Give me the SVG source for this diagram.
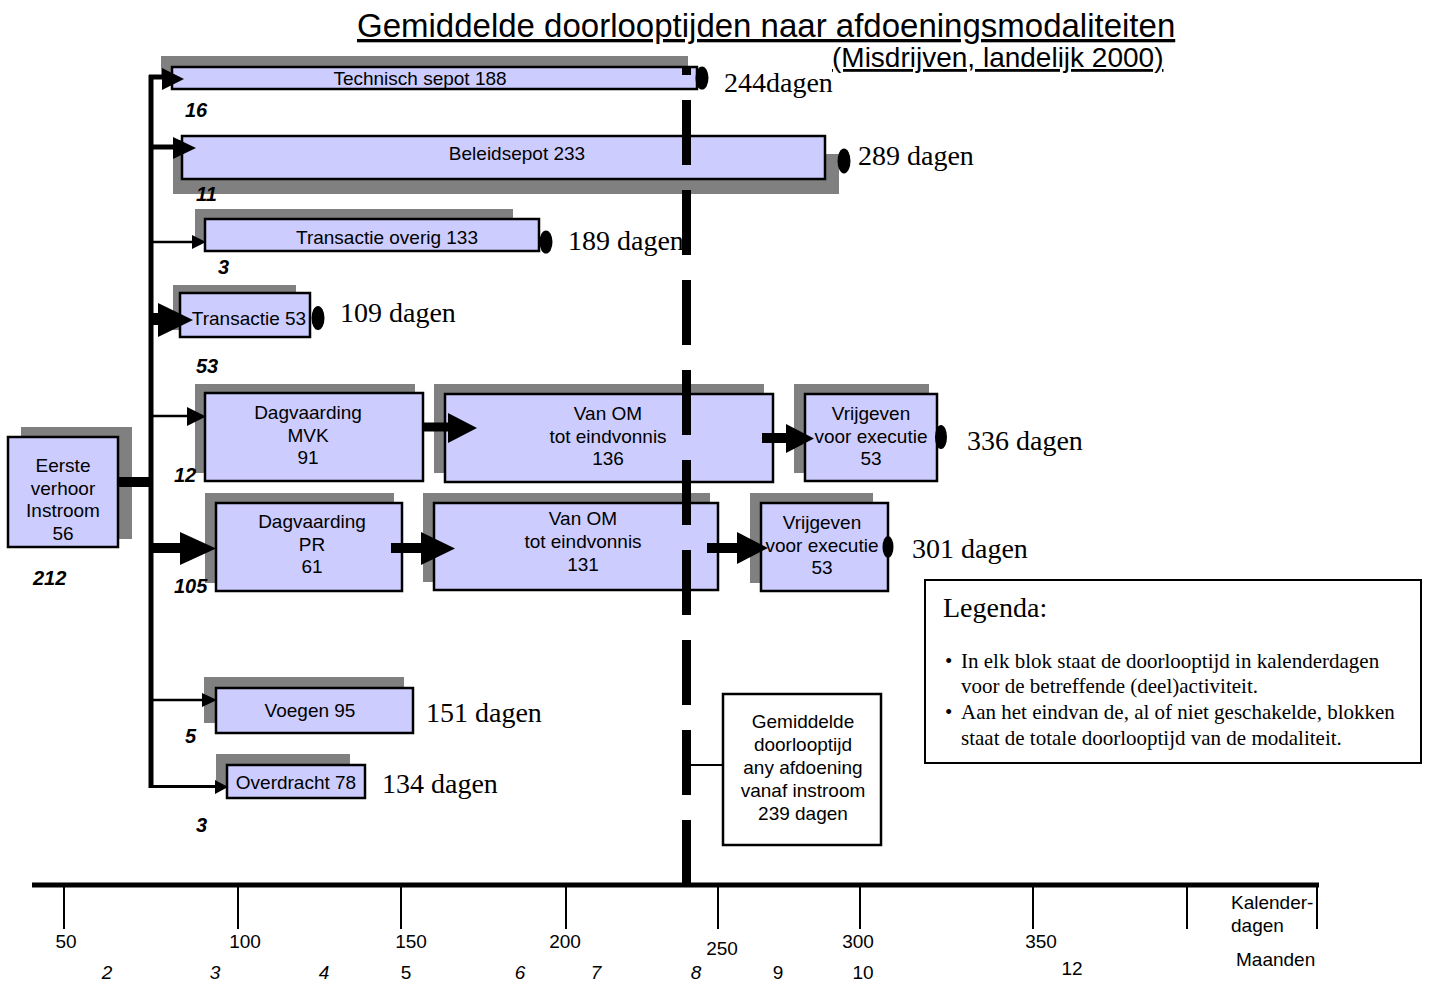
<svg xmlns="http://www.w3.org/2000/svg" width="1429" height="984" viewBox="0 0 1429 984">
<style>
.sh{fill:#808080}
.box{fill:#CCCCFF;stroke:#000;stroke-width:2.5}
.t{font-family:"Liberation Sans",Arial,sans-serif;font-size:19px;text-anchor:middle;fill:#000}
.d{font-family:"Liberation Serif","Times New Roman",serif;font-size:28px;fill:#000}
.n{font-family:"Liberation Sans",Arial,sans-serif;font-size:20px;font-weight:bold;font-style:italic;fill:#000}
.ax{font-family:"Liberation Sans",Arial,sans-serif;font-size:19px;text-anchor:middle;fill:#000}
.mo{font-family:"Liberation Sans",Arial,sans-serif;font-size:19px;text-anchor:middle;fill:#000}
.lg{font-family:"Liberation Serif","Times New Roman",serif;font-size:21px;fill:#000}
.ln{stroke:#000;fill:none}
.ah{fill:#000}
</style>
<rect width="1429" height="984" fill="#fff"/>

<g id="title">
<text x="357" y="37" font-family="Liberation Sans, Arial, sans-serif" font-size="33" text-decoration="underline">Gemiddelde doorlooptijden naar afdoeningsmodaliteiten</text>
<text x="832" y="67" font-family="Liberation Sans, Arial, sans-serif" font-size="28" text-decoration="underline">(Misdrijven, landelijk 2000)</text>
</g>

<g id="eerste">
<rect class="sh" x="21" y="427" width="111" height="112"/>
<rect class="box" x="8" y="437" width="110" height="110"/>
<text class="t" x="63" y="472">Eerste</text>
<text class="t" x="63" y="495">verhoor</text>
<text class="t" x="63" y="517">Instroom</text>
<text class="t" x="63" y="540">56</text>
<text class="n" x="33" y="585">212</text>
</g>

<g id="technisch">
<rect class="sh" x="161" y="56" width="527" height="22"/>
<rect class="box" x="172" y="67" width="525" height="22"/>
<text class="t" x="420" y="85">Technisch sepot 188</text>
<ellipse cx="702" cy="78" rx="6.5" ry="11.5"/>
<text class="d" x="724" y="92">244dagen</text>
<text class="n" x="185" y="117">16</text>
</g>

<g id="beleidsepot">
<path class="sh" d="M173,140 H825 V154 H839 V194 H173 Z"/>
<rect class="box" x="182" y="136" width="643" height="43"/>
<text class="t" x="517" y="160">Beleidsepot  233</text>
<ellipse cx="844" cy="161" rx="6.5" ry="12.5"/>
<text class="d" x="858" y="165">289 dagen</text>
<text class="n" x="196" y="201">11</text>
</g>

<g id="transactie-overig">
<rect class="sh" x="195" y="209" width="318" height="32"/>
<rect class="box" x="205" y="219" width="334" height="32"/>
<text class="t" x="387" y="244">Transactie overig 133</text>
<ellipse cx="546" cy="242" rx="6.5" ry="11.5"/>
<text class="d" x="568" y="250">189 dagen</text>
<text class="n" x="218" y="274">3</text>
</g>

<g id="transactie">
<rect class="sh" x="173" y="285" width="123" height="45"/>
<rect class="box" x="180" y="293" width="130" height="44"/>
<text class="t" x="249" y="325">Transactie 53</text>
<ellipse cx="318" cy="318" rx="6.5" ry="12"/>
<text class="d" x="340" y="322">109 dagen</text>
<text class="n" x="196" y="373">53</text>
</g>

<g id="dagvaarding-mvk">
<rect class="sh" x="195" y="384" width="220" height="89"/>
<rect class="box" x="205" y="393" width="218" height="88"/>
<text class="t" x="308" y="419">Dagvaarding</text>
<text class="t" x="308" y="442">MVK</text>
<text class="t" x="308" y="464">91</text>
<text class="n" x="174" y="482">12</text>
</g>

<g id="vanom-136">
<rect class="sh" x="434" y="384" width="330" height="89"/>
<rect class="box" x="445" y="394" width="328" height="88"/>
<text class="t" x="608" y="420">Van OM</text>
<text class="t" x="608" y="443">tot eindvonnis</text>
<text class="t" x="608" y="465">136</text>
</g>

<g id="vrijgeven-mvk">
<rect class="sh" x="794" y="384" width="135" height="89"/>
<rect class="box" x="805" y="394" width="132" height="87"/>
<text class="t" x="871" y="420">Vrijgeven</text>
<text class="t" x="871" y="443">voor executie</text>
<text class="t" x="871" y="465">53</text>
<ellipse cx="941" cy="437" rx="6" ry="12"/>
<text class="d" x="967" y="450">336 dagen</text>
</g>

<g id="dagvaarding-pr">
<rect class="sh" x="205" y="493" width="189" height="90"/>
<rect class="box" x="216" y="503" width="186" height="88"/>
<text class="t" x="312" y="528">Dagvaarding</text>
<text class="t" x="312" y="551">PR</text>
<text class="t" x="312" y="573">61</text>
<text class="n" x="174" y="593">105</text>
</g>

<g id="vanom-131">
<rect class="sh" x="423" y="493" width="287" height="89"/>
<rect class="box" x="434" y="503" width="284" height="87"/>
<text class="t" x="583" y="525">Van OM</text>
<text class="t" x="583" y="548">tot eindvonnis</text>
<text class="t" x="583" y="571">131</text>
</g>

<g id="vrijgeven-pr">
<rect class="sh" x="750" y="493" width="123" height="90"/>
<rect class="box" x="761" y="503" width="127" height="88"/>
<text class="t" x="822" y="529">Vrijgeven</text>
<text class="t" x="822" y="552">voor executie</text>
<text class="t" x="822" y="574">53</text>
<ellipse cx="888" cy="547" rx="5.5" ry="11"/>
<text class="d" x="912" y="558">301 dagen</text>
</g>

<g id="voegen">
<rect class="sh" x="204" y="677" width="200" height="46"/>
<rect class="box" x="216" y="688" width="197" height="45"/>
<text class="t" x="310" y="717">Voegen 95</text>
<text class="d" x="426" y="722">151 dagen</text>
<text class="n" x="185" y="743">5</text>
</g>

<g id="overdracht">
<rect class="sh" x="216" y="754" width="134" height="33"/>
<rect class="box" x="227" y="765" width="138" height="33"/>
<text class="t" x="296" y="789">Overdracht  78</text>
<text class="d" x="382" y="793">134 dagen</text>
<text class="n" x="196" y="832">3</text>
</g>

<g id="gemiddelde">
<rect x="723" y="694" width="158" height="151" fill="#fff" stroke="#000" stroke-width="2.5"/>
<text class="t" x="803" y="728">Gemiddelde</text>
<text class="t" x="803" y="751">doorlooptijd</text>
<text class="t" x="803" y="774">any afdoening</text>
<text class="t" x="803" y="797">vanaf instroom</text>
<text class="t" x="803" y="820">239 dagen</text>
</g>

<g id="legenda">
<rect x="925" y="580" width="496" height="183" fill="#fff" stroke="#000" stroke-width="2"/>
<text class="d" x="943" y="617">Legenda:</text>
<text class="lg" x="945" y="668">•</text>
<text class="lg" x="961" y="668">In elk blok staat de doorlooptijd in kalenderdagen</text>
<text class="lg" x="961" y="693">voor de betreffende (deel)activiteit.</text>
<text class="lg" x="945" y="719">•</text>
<text class="lg" x="961" y="719">Aan het eindvan de, al of niet geschakelde, blokken</text>
<text class="lg" x="961" y="745">staat de totale doorlooptijd van de modaliteit.</text>
</g>

<g id="connectors">
<line class="ln" x1="151" y1="75" x2="151" y2="788" stroke-width="5"/>
<line class="ln" x1="149" y1="77" x2="165" y2="77" stroke-width="5"/>
<polygon class="ah" points="162,68 184,79 162,90"/>
<line class="ln" x1="151" y1="147" x2="176" y2="147" stroke-width="5"/>
<polygon class="ah" points="173,137 196,148 173,159"/>
<line class="ln" x1="151" y1="242" x2="194" y2="242" stroke-width="2.5"/>
<polygon class="ah" points="192,235 206,242 192,249"/>
<line class="ln" x1="151" y1="319" x2="163" y2="319" stroke-width="12"/>
<polygon class="ah" points="158,303 193,320 158,337"/>
<line class="ln" x1="151" y1="416" x2="190" y2="416" stroke-width="2.5"/>
<polygon class="ah" points="187,407 206,416.5 187,426"/>
<line class="ln" x1="118" y1="482" x2="153" y2="482" stroke-width="10"/>
<line class="ln" x1="151" y1="548" x2="183" y2="548" stroke-width="10"/>
<polygon class="ah" points="180,532 216,548.5 180,565"/>
<line class="ln" x1="423" y1="427" x2="450" y2="427" stroke-width="9"/>
<polygon class="ah" points="448,413 477,428 448,443"/>
<line class="ln" x1="762" y1="438" x2="788" y2="438" stroke-width="10"/>
<polygon class="ah" points="786,424 814,438.5 786,453"/>
<line class="ln" x1="391" y1="548" x2="423" y2="548" stroke-width="10"/>
<polygon class="ah" points="421,532 455,548.5 421,565"/>
<line class="ln" x1="707" y1="548" x2="740" y2="548" stroke-width="10"/>
<polygon class="ah" points="737,532 768,548 737,564"/>
<line class="ln" x1="151" y1="700" x2="204" y2="700" stroke-width="2.5"/>
<polygon class="ah" points="202,693 217,700 202,707"/>
<line class="ln" x1="149.5" y1="786.5" x2="217" y2="786.5" stroke-width="3"/>
<polygon class="ah" points="215,780 228,787 215,794"/>
<line class="ln" x1="686.5" y1="67" x2="686.5" y2="885" stroke-width="9" stroke-dasharray="65 25" stroke-dashoffset="57"/>
<line class="ln" x1="686" y1="765" x2="723" y2="765" stroke-width="2"/>
</g>

<g id="axis">
<line class="ln" x1="32" y1="885" x2="1319" y2="885" stroke-width="5"/>
<g class="ln" stroke-width="2">
<line x1="64" y1="885" x2="64" y2="929"/>
<line x1="238" y1="885" x2="238" y2="929"/>
<line x1="401" y1="885" x2="401" y2="929"/>
<line x1="566" y1="885" x2="566" y2="929"/>
<line x1="718" y1="885" x2="718" y2="929"/>
<line x1="860" y1="885" x2="860" y2="929"/>
<line x1="1033" y1="885" x2="1033" y2="929"/>
<line x1="1187" y1="885" x2="1187" y2="929"/>
<line x1="1317" y1="885" x2="1317" y2="929"/>
</g>
<text class="ax" x="66" y="948">50</text>
<text class="ax" x="245" y="948">100</text>
<text class="ax" x="411" y="948">150</text>
<text class="ax" x="565" y="948">200</text>
<text class="ax" x="722" y="955">250</text>
<text class="ax" x="858" y="948">300</text>
<text class="ax" x="1041" y="948">350</text>
<text class="mo" x="107" y="979" font-style="italic">2</text>
<text class="mo" x="215" y="979" font-style="italic">3</text>
<text class="mo" x="324" y="979" font-style="italic">4</text>
<text class="mo" x="406" y="979">5</text>
<text class="mo" x="520" y="979" font-style="italic">6</text>
<text class="mo" x="596" y="979" font-style="italic">7</text>
<text class="mo" x="696" y="979" font-style="italic">8</text>
<text class="mo" x="778" y="979">9</text>
<text class="mo" x="863" y="979">10</text>
<text class="mo" x="1072" y="975">12</text>
<text x="1231" y="909" font-family="Liberation Sans, Arial, sans-serif" font-size="19">Kalender-</text>
<text x="1231" y="932" font-family="Liberation Sans, Arial, sans-serif" font-size="19">dagen</text>
<text x="1236" y="966" font-family="Liberation Sans, Arial, sans-serif" font-size="19">Maanden</text>
</g>
</svg>
